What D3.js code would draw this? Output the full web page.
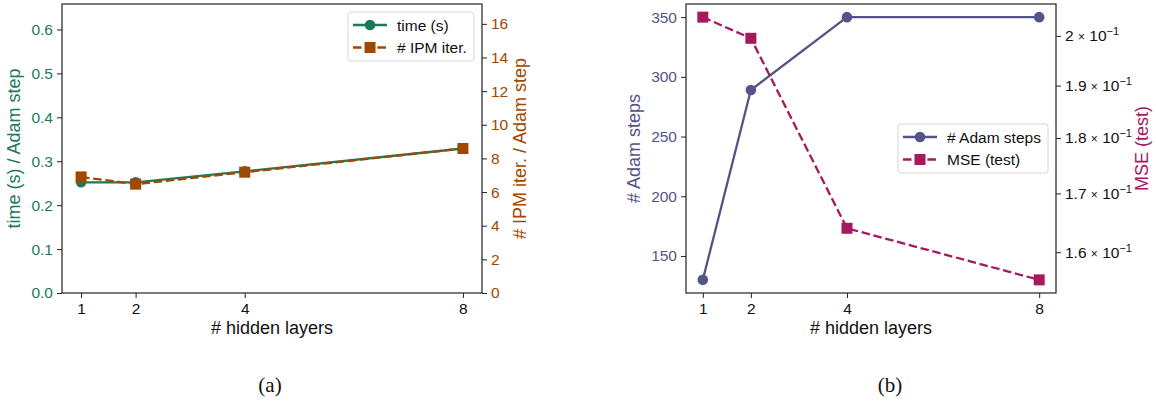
<!DOCTYPE html>
<html>
<head>
<meta charset="utf-8">
<script src="https://cdn.jsdelivr.net/npm/d3@7"></script>
<style>
  body { margin: 0; background: #fff; }
  svg { font-family: "Liberation Sans", Arial, sans-serif; }
</style>
</head>
<body>
<svg id="chart" width="1156" height="402"></svg>
<script>
// data
const layers = [1, 2, 4, 8];
const timePerStep = [0.252, 0.252, 0.277, 0.329];
const ipmPerStep = [6.9, 6.47, 7.18, 8.59];
const adamSteps = [130, 289, 350, 350];
const mseTest = [0.2039, 0.1995, 0.164, 0.1555];
const xTicks = [1, 2, 4, 8];
const timeTicks = [0, 0.1, 0.2, 0.3, 0.4, 0.5, 0.6];
const ipmTicks = [0, 2, 4, 6, 8, 10, 12, 14, 16];
const adamTicks = [150, 200, 250, 300, 350];
const mseTicks = [0.16, 0.17, 0.18, 0.19, 0.2];

const COLORS = {
  green: "#1c7a5b",
  brown: "#a04800",
  purple: "#555488",
  magenta: "#a5195f",
  axis: "#222"
};

const svg = d3.select("#chart");
const FS = 15.5;      // ticks, legend
const FS_LAB = 18;    // axis titles

function pad(ext, frac) {
  const r = ext[1] - ext[0];
  return [ext[0] - r * frac, ext[1] + r * frac];
}

function drawSpines(g, w, h) {
  g.append("rect")
    .attr("x", 0).attr("y", 0)
    .attr("width", w).attr("height", h)
    .attr("fill", "none")
    .attr("stroke", COLORS.axis)
    .attr("stroke-width", 1.2);
}

function styleAxis(sel, color) {
  sel.select(".domain").remove();
  sel.selectAll(".tick line").attr("stroke", COLORS.axis).attr("stroke-width", 1);
  sel.selectAll(".tick text")
    .attr("fill", color)
    .style("font-size", FS + "px")
    .style("font-family", "'Liberation Sans', Arial, sans-serif");
}

function drawSeries(g, x, y, ys, color, dashed, square) {
  const pts = layers.map((l, i) => [l, ys[i]]);
  const line = d3.line().x(d => x(d[0])).y(d => y(d[1]));
  g.append("path")
    .datum(pts)
    .attr("d", line)
    .attr("fill", "none")
    .attr("stroke", color)
    .attr("stroke-width", 2.3)
    .attr("stroke-dasharray", dashed ? "8.5,3.7" : null);
  if (square) {
    g.selectAll(null).data(pts).enter().append("rect")
      .attr("x", d => x(d[0]) - 5.5)
      .attr("y", d => y(d[1]) - 5.5)
      .attr("width", 11).attr("height", 11)
      .attr("fill", color);
  } else {
    g.selectAll(null).data(pts).enter().append("circle")
      .attr("cx", d => x(d[0]))
      .attr("cy", d => y(d[1]))
      .attr("r", 5.3)
      .attr("fill", color);
  }
}

function drawLegend(g, lx, ly, w, items) {
  const box = g.append("g").attr("transform", `translate(${lx},${ly})`);
  box.append("rect")
    .attr("width", w).attr("height", 49)
    .attr("rx", 3)
    .attr("fill", "#fff").attr("fill-opacity", 0.85)
    .attr("stroke", "#d6d6d6");
  items.forEach((it, i) => {
    const cy = 13 + i * 22.5;
    box.append("line")
      .attr("x1", 5).attr("x2", 39)
      .attr("y1", cy).attr("y2", cy)
      .attr("stroke", it.color).attr("stroke-width", 2.3)
      .attr("stroke-dasharray", it.dashed ? "8.5,3.7" : null);
    if (it.square) {
      box.append("rect").attr("x", 22 - 5.5).attr("y", cy - 5.5)
        .attr("width", 11).attr("height", 11).attr("fill", it.color);
    } else {
      box.append("circle").attr("cx", 22).attr("cy", cy).attr("r", 5.3).attr("fill", it.color);
    }
    box.append("text")
      .attr("x", 49).attr("y", cy + 5.5)
      .style("font-size", FS + "px")
      .attr("fill", "#111")
      .text(it.label);
  });
}

function xAxis(g, x, h, midX) {
  const ax = g.append("g").attr("transform", `translate(0,${h})`)
    .call(d3.axisBottom(x).tickValues(xTicks).tickSize(5).tickPadding(4.5).tickFormat(d3.format("d")));
  styleAxis(ax, "#111");
  g.append("text")
    .attr("x", midX).attr("y", h + 41)
    .attr("text-anchor", "middle")
    .style("font-size", FS_LAB + "px")
    .attr("fill", "#111")
    .text("# hidden layers");
}

function yLabel(g, xPos, yMid, text, color) {
  g.append("text")
    .attr("transform", `translate(${xPos},${yMid}) rotate(-90)`)
    .attr("text-anchor", "middle")
    .style("font-size", FS_LAB + "px")
    .attr("fill", color)
    .text(text);
}

// ---------- panel (a) ----------
{
  const left = 62, top = 4, w = 420, h = 289;
  const g = svg.append("g").attr("transform", `translate(${left},${top})`);
  const x = d3.scaleLinear().domain(pad(d3.extent(layers), 0.05)).range([0, w]);
  const yL = d3.scaleLinear().domain([0, 2 * d3.max(timePerStep)]).range([h, 0]);
  const yR = d3.scaleLinear().domain([0, 2 * d3.max(ipmPerStep)]).range([h, 0]);

  const axL = g.append("g").call(d3.axisLeft(yL).tickValues(timeTicks).tickSize(5).tickPadding(4).tickFormat(d3.format(".1f")));
  styleAxis(axL, COLORS.green);
  const axR = g.append("g").attr("transform", `translate(${w},0)`)
    .call(d3.axisRight(yR).tickValues(ipmTicks).tickSize(5).tickPadding(4).tickFormat(d3.format("d")));
  styleAxis(axR, COLORS.brown);
  xAxis(g, x, h, w / 2);

  drawSeries(g, x, yL, timePerStep, COLORS.green, false, false);
  drawSeries(g, x, yR, ipmPerStep, COLORS.brown, true, true);
  drawSpines(g, w, h);

  yLabel(g, -42, h / 2, "time (s) / Adam step", COLORS.green);
  yLabel(g, w + 44, h / 2, "# IPM iter. / Adam step", COLORS.brown);

  drawLegend(g, 286, 8, 126, [
    { label: "time (s)", color: COLORS.green, dashed: false, square: false },
    { label: "# IPM iter.", color: COLORS.brown, dashed: true, square: true }
  ]);

  svg.append("text")
    .attr("x", 270).attr("y", 392)
    .attr("text-anchor", "middle")
    .style("font-family", "'Liberation Serif', 'Times New Roman', serif")
    .style("font-size", "21px")
    .attr("fill", "#111")
    .text("(a)");
}

// ---------- panel (b) ----------
{
  const left = 686, top = 4, w = 370, h = 289;
  const g = svg.append("g").attr("transform", `translate(${left},${top})`);
  const x = d3.scaleLinear().domain(pad(d3.extent(layers), 0.05)).range([0, w]);
  const yL = d3.scaleLinear().domain(pad(d3.extent(adamSteps), 0.05)).range([h, 0]);
  const lext = d3.extent(mseTest).map(Math.log);
  const yR = d3.scaleLog().domain(pad(lext, 0.05).map(Math.exp)).range([h, 0]);

  const axL = g.append("g").call(d3.axisLeft(yL).tickValues(adamTicks).tickSize(5).tickPadding(4).tickFormat(d3.format("d")));
  styleAxis(axL, COLORS.purple);
  const axR = g.append("g").attr("transform", `translate(${w},0)`)
    .call(d3.axisRight(yR).tickValues(mseTicks).tickSize(5).tickPadding(4).tickFormat(() => ""));
  styleAxis(axR, "#111");
  // mantissa x 10^-1 labels
  axR.selectAll(".tick text").each(function (d) {
    const t = d3.select(this);
    const m = Math.round(d * 100) / 10;
    t.text(null);
    t.append("tspan").text((m % 1 === 0 ? m.toFixed(0) : m.toFixed(1)) + " ");
    t.append("tspan").style("font-size", "12px").text("\u00d7");
    t.append("tspan").text(" 10");
    t.append("tspan").attr("dy", "-0.55em").style("font-size", "11px").text("\u22121");
  });
  xAxis(g, x, h, w / 2);

  drawSeries(g, x, yL, adamSteps, COLORS.purple, false, false);
  drawSeries(g, x, yR, mseTest, COLORS.magenta, true, true);
  drawSpines(g, w, h);

  yLabel(g, -46, h / 2, "# Adam steps", COLORS.purple);
  yLabel(g, w + 92, h / 2, "MSE (test)", COLORS.magenta);

  drawLegend(g, 212, 120, 150, [
    { label: "# Adam steps", color: COLORS.purple, dashed: false, square: false },
    { label: "MSE (test)", color: COLORS.magenta, dashed: true, square: true }
  ]);

  svg.append("text")
    .attr("x", 890).attr("y", 392)
    .attr("text-anchor", "middle")
    .style("font-family", "'Liberation Serif', 'Times New Roman', serif")
    .style("font-size", "21px")
    .attr("fill", "#111")
    .text("(b)");
}
</script>
</body>
</html>
